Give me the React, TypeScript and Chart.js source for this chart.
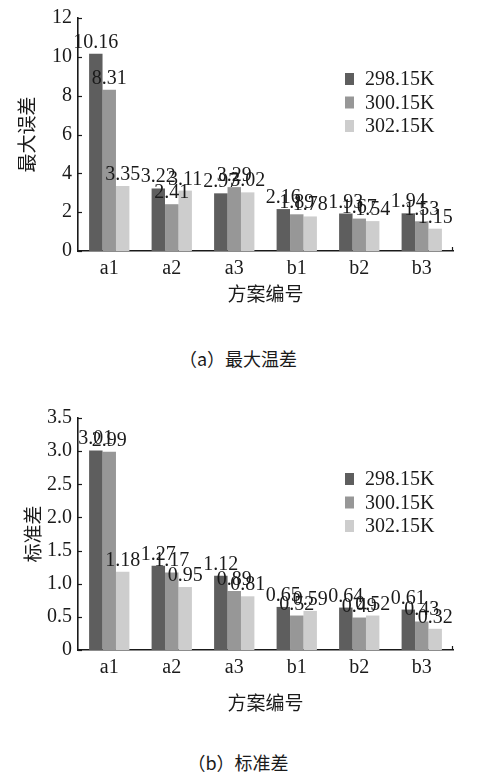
import React, { useEffect, useRef } from 'react';
import { Chart, registerables } from 'chart.js';

Chart.register(...registerables);

const categories = ['a1', 'a2', 'a3', 'b1', 'b2', 'b3'];
const seriesLabels = ['298.15K', '300.15K', '302.15K'];
const seriesColors = ['#5e5e5e', '#979797', '#cdcdcd'];

// (a) 最大温差
const maxDiff298 = [10.16, 3.22, 2.97, 2.16, 1.93, 1.94];
const maxDiff300 = [8.31, 2.41, 3.29, 1.89, 1.67, 1.53];
const maxDiff302 = [3.35, 3.11, 3.02, 1.78, 1.54, 1.15];

// (b) 标准差
const std298 = [3.01, 1.27, 1.12, 0.65, 0.64, 0.61];
const std300 = [2.99, 1.17, 0.89, 0.52, 0.49, 0.43];
const std302 = [1.18, 0.95, 0.81, 0.59, 0.52, 0.32];

const SERIF = "'Liberation Serif', 'Times New Roman', serif";
const CJK = "'Noto Sans CJK SC', 'Noto Sans', sans-serif";
const INK = '#1a1a1a';
const AXIS = '#1a1a1a';

const valueLabelPlugin = {
  id: 'valueLabels',
  afterDatasetsDraw(chart: any) {
    const ctx = chart.ctx;
    ctx.save();
    ctx.font = `20px ${SERIF}`;
    ctx.fillStyle = INK;
    ctx.textAlign = 'center';
    ctx.textBaseline = 'alphabetic';
    chart.data.datasets.forEach((ds: any, i: number) => {
      const meta = chart.getDatasetMeta(i);
      meta.data.forEach((bar: any, j: number) => {
        const v = ds.data[j];
        ctx.fillText(Number(v).toFixed(2), bar.x, bar.y - 6);
      });
    });
    ctx.restore();
  },
};

const legendPlugin = {
  id: 'innerLegend',
  afterDraw(chart: any) {
    const ctx = chart.ctx;
    const area = chart.chartArea;
    const x0 = area.right - 108;
    ctx.save();
    ctx.font = `20px ${SERIF}`;
    ctx.textAlign = 'left';
    ctx.textBaseline = 'middle';
    chart.data.datasets.forEach((ds: any, i: number) => {
      const cy = area.top + 61 + i * 23.5;
      ctx.fillStyle = ds.backgroundColor;
      ctx.fillRect(x0, cy - 6, 9, 12);
      ctx.fillStyle = INK;
      ctx.fillText(ds.label, x0 + 20, cy + 1);
    });
    ctx.restore();
  },
};

const innerTickPlugin = {
  id: 'innerTicks',
  afterDraw(chart: any) {
    const ctx = chart.ctx;
    const y = chart.scales.y;
    const area = chart.chartArea;
    ctx.save();
    ctx.strokeStyle = AXIS;
    ctx.lineWidth = 1.2;
    y.ticks.forEach((t: any) => {
      const py = Math.round(y.getPixelForValue(t.value)) + 0.5;
      ctx.beginPath();
      ctx.moveTo(area.left, py);
      ctx.lineTo(area.left + 4, py);
      ctx.stroke();
    });
    ctx.beginPath();
    ctx.moveTo(area.right - 0.5, area.bottom);
    ctx.lineTo(area.right - 0.5, area.bottom - 4);
    ctx.stroke();
    ctx.restore();
  },
};

type PanelProps = {
  s1: number[];
  s2: number[];
  s3: number[];
  yMax: number;
  yStep: number;
  yTitle: string;
  yTitlePad: number;
  xTitlePad: number;
  topPad: number;
  plotBottom: number;
  fmt: (v: number) => string;
  top: number;
};

const CANVAS_H = 320;

function Panel(props: PanelProps) {
  const ref = useRef<HTMLCanvasElement | null>(null);
  useEffect(() => {
    if (!ref.current) return;
    const series = [props.s1, props.s2, props.s3];
    const chart = new Chart(ref.current, {
      type: 'bar',
      data: {
        labels: categories,
        datasets: series.map((d, i) => ({
          label: seriesLabels[i],
          data: d,
          backgroundColor: seriesColors[i],
          borderWidth: 0,
          categoryPercentage: 0.645,
          barPercentage: 1.0,
        })),
      },
      options: {
        responsive: false,
        animation: false,
        devicePixelRatio: 1,
        layout: { padding: { top: props.topPad, right: 27, left: 0, bottom: 0 } },
        plugins: {
          legend: { display: false },
          tooltip: { enabled: false },
        },
        scales: {
          x: {
            grid: { display: false, drawTicks: false },
            border: { display: true, color: AXIS, width: 1.6 },
            ticks: { color: INK, font: { family: SERIF, size: 20 }, padding: 6 },
            title: {
              display: true,
              text: '方案编号',
              color: INK,
              font: { family: CJK, size: 19 },
              padding: { top: 0, bottom: props.xTitlePad },
            },
            afterFit: (scale: any) => {
              scale.height = CANVAS_H - props.plotBottom;
            },
          },
          y: {
            min: 0,
            max: props.yMax,
            grid: { display: false, drawTicks: false },
            border: { display: true, color: AXIS, width: 1.6 },
            ticks: {
              stepSize: props.yStep,
              color: INK,
              font: { family: SERIF, size: 20 },
              padding: 6,
              callback: (v: any) => props.fmt(Number(v)),
            },
            title: {
              display: true,
              text: props.yTitle,
              color: INK,
              font: { family: CJK, size: 19 },
              padding: { top: props.yTitlePad, bottom: 0 },
            },
            afterFit: (scale: any) => {
              scale.width = 78;
            },
          },
        },
      },
      plugins: [valueLabelPlugin, legendPlugin, innerTickPlugin],
    } as any);
    return () => chart.destroy();
  }, []);
  return (
    <canvas
      ref={ref}
      width={480}
      height={CANVAS_H}
      style={{ position: 'absolute', left: 0, top: props.top, width: 480, height: CANVAS_H }}
    />
  );
}

export default function App() {
  useEffect(() => {
    document.body.style.margin = '0';
  }, []);
  const captionStyle = (top: number): React.CSSProperties => ({
    position: 'absolute',
    left: -2,
    width: 480,
    top,
    textAlign: 'center',
    fontFamily: CJK,
    fontSize: 18,
    lineHeight: '24px',
    color: INK,
  });
  return (
    <div style={{ position: 'relative', width: 480, height: 782, background: '#fff', overflow: 'hidden' }}>
      <Panel
        s1={maxDiff298}
        s2={maxDiff300}
        s3={maxDiff302}
        yMax={12}
        yStep={2}
        yTitle="最大误差"
        yTitlePad={15}
        xTitlePad={15}
        topPad={16}
        plotBottom={251}
        fmt={(v) => String(v)}
        top={0}
      />
      <div style={captionStyle(346)}>（a）最大温差</div>
      <Panel
        s1={std298}
        s2={std300}
        s3={std302}
        yMax={3.5}
        yStep={0.5}
        yTitle="标准差"
        yTitlePad={21}
        xTitlePad={6}
        topPad={18}
        plotBottom={250}
        fmt={(v) => (v === 0 ? '0' : v.toFixed(1))}
        top={400}
      />
      <div style={captionStyle(750)}>（b）标准差</div>
    </div>
  );
}
